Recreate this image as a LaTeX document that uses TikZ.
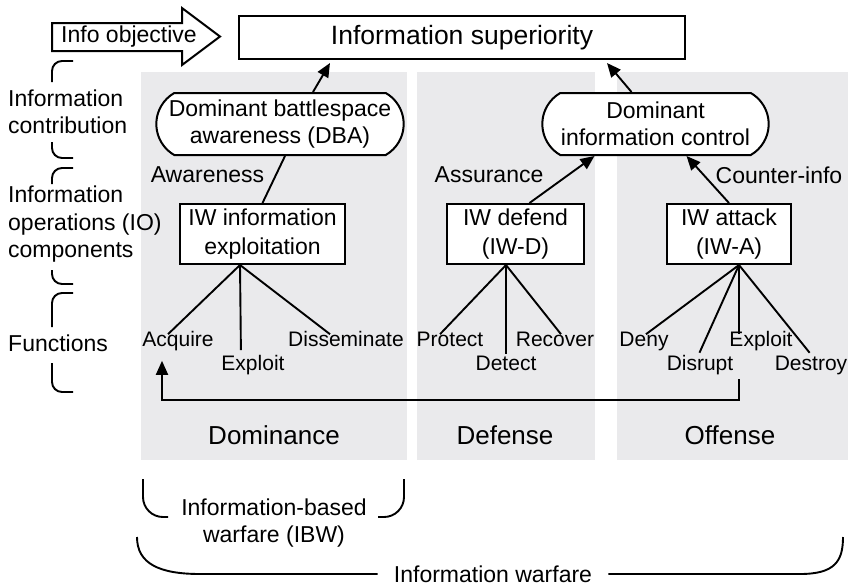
\documentclass[tikz,border=0pt]{standalone}
\usepackage{fontspec}
\setmainfont{Liberation Sans}
\usetikzlibrary{arrows.meta,shapes.misc}
\definecolor{panelgray}{RGB}{234,234,236}

\begin{document}
\begin{tikzpicture}[x=1pt,y=-1pt,
		box/.style={draw, line width=2pt, fill=white, align=center, font=\fontsize{23}{29}\selectfont},
		pill/.style={rounded rectangle, rounded rectangle arc length=120, draw, line width=2pt, fill=white, align=center, font=\fontsize{23}{27}\selectfont, minimum height=62pt},
		lbl/.style={font=\fontsize{23}{27}\selectfont, inner sep=0pt},
		func/.style={font=\fontsize{21}{25}\selectfont, inner sep=5pt, text height=0.72em, text depth=0pt},
		panel/.style={font=\fontsize{26}{30}\selectfont},
		link/.style={line width=1.9pt},
		up/.style={line width=1.9pt, -{Triangle[length=14pt,width=12pt]}},
		brace/.style={line width=1.9pt, rounded corners=10pt}]
			\useasboundingbox (0,0) rectangle (848,587);
			\fill[panelgray] (141,72) rectangle (407,460);
			\fill[panelgray] (417,72) rectangle (595,460);
			\fill[panelgray] (617,72) rectangle (848,460);
			\draw[line width=2pt, fill=white] (52,23) -- (182,23) -- (182,8) -- (220,36.5) -- (182,65) -- (182,51) -- (52,51) -- cycle;
			\node[lbl] (obj) at (129,37) {Info objective};
			\node[box, minimum width=446pt, minimum height=43pt, font=\fontsize{26.5}{30}\selectfont] (sup) at (462,37.5) {Information superiority};
			\node[pill, minimum width=254pt] (dba) at (280,124) {Dominant battlespace\\awareness (DBA)};
			\node[pill, minimum width=233pt] (dic) at (655.5,124) {Dominant\\information control};
			\node[box, minimum width=165pt, minimum height=60pt] (iwx) at (262.5,234) {IW information\\exploitation};
			\node[box, minimum width=137pt, minimum height=60pt] (iwd) at (515.5,234) {IW defend\\(IW-D)};
			\node[box, minimum width=124pt, minimum height=60pt] (iwa) at (729,234) {IW attack\\(IW-A)};
			\node[lbl] (aw) at (207.5,175) {Awareness};
			\node[lbl] (as) at (489,175) {Assurance};
			\node[lbl] (ci) at (779,175) {Counter-info};
			\node[lbl, anchor=west, align=left] (contrib) at (8,111.5) {Information\\contribution};
			\node[lbl, anchor=west, align=left, font=\fontsize{23}{27.5}\selectfont] (ioc) at (8,224.5) {Information\\operations (IO)\\components};
			\node[lbl, anchor=west] (fn) at (8,343) {Functions};
			\draw[brace] (73,61) -| (52,82);
			\draw[brace] (52,142) |- (73,158);
			\draw[brace] (73,168) -| (52,184);
			\draw[brace] (52,270) |- (73,284);
			\draw[brace] (73,293) -| (52,327);
			\draw[brace] (52,363) |- (73,392);
			\node[func] (acq) at (178,343) {Acquire};
			\node[func] (exd) at (253,367) {Exploit};
			\node[func] (dis) at (346,343) {Disseminate};
			\node[func] (pro) at (450,343) {Protect};
			\node[func] (det) at (506,367) {Detect};
			\node[func] (rec) at (555,343) {Recover};
			\node[func] (den) at (644,343) {Deny};
			\node[func] (dsr) at (700,367) {Disrupt};
			\node[func] (exo) at (761,343) {Exploit};
			\node[func] (des) at (811,367) {Destroy};
			\draw[up] ([xshift=33pt]dba.north) -- ([xshift=-132pt,yshift=-3pt]sup.south);
			\draw[up] ([xshift=-24pt]dic.north) -- ([xshift=145pt,yshift=-3pt]sup.south);
			\draw[link] (iwx.north) -- ([xshift=5pt]dba.south);
			\draw[up] ([xshift=14pt]iwd.north) -- ([xshift=-61pt]dic.south);
			\draw[up] (iwa.north) -- ([xshift=31pt]dic.south);
			\draw[link] ([xshift=-22.5pt]iwx.south) -- ([xshift=-10pt]acq.north);
			\draw[link, shorten >=8pt] ([xshift=-22.5pt]iwx.south) -- ([xshift=-12pt]exd.north);
			\draw[link] ([xshift=-22.5pt]iwx.south) -- ([xshift=-16pt]dis.north);
			\draw[link] ([xshift=-9.5pt]iwd.south) -- ([xshift=-10pt]pro.north);
			\draw[link, shorten >=4pt] ([xshift=-9.5pt]iwd.south) -- ([xshift=0pt]det.north);
			\draw[link] ([xshift=-9.5pt]iwd.south) -- ([xshift=6pt]rec.north);
			\draw[link] ([xshift=10pt]iwa.south) -- ([xshift=2pt]den.north);
			\draw[link, shorten >=6pt] ([xshift=10pt]iwa.south) -- ([xshift=-3pt]dsr.north);
			\draw[link] ([xshift=10pt]iwa.south) -- ([xshift=-22pt]exo.north);
			\draw[link, shorten >=7pt] ([xshift=10pt]iwa.south) -- ([xshift=3pt]des.north);
			\coordinate (fb) at (739,379);
			\draw[up] (fb) -- ++(0,21) -| ([xshift=-16pt,yshift=-9pt]acq.south);
			\node[panel] (dom) at (274,435) {Dominance};
			\node[panel] (def) at (505,435) {Defense};
			\node[panel] (off) at (730,435) {Offense};
			\node[lbl, align=center] (ibw) at (274,523.5) {Information-based\\warfare (IBW)};
			\draw[brace, rounded corners=20pt] (143,479) |- (168,517);
			\draw[brace, rounded corners=20pt] (378,517) -| (404,479);
			\node[lbl, inner xsep=16pt] (iw) at (493,574) {Information warfare};
			\draw[link] (iw.west) -- (200,574) .. controls (160,574) and (137,564) .. (137,537);
			\draw[link] (iw.east) -- (800,574) .. controls (835,574) and (843,561) .. (843,537);
		\end{tikzpicture}
\end{document}
